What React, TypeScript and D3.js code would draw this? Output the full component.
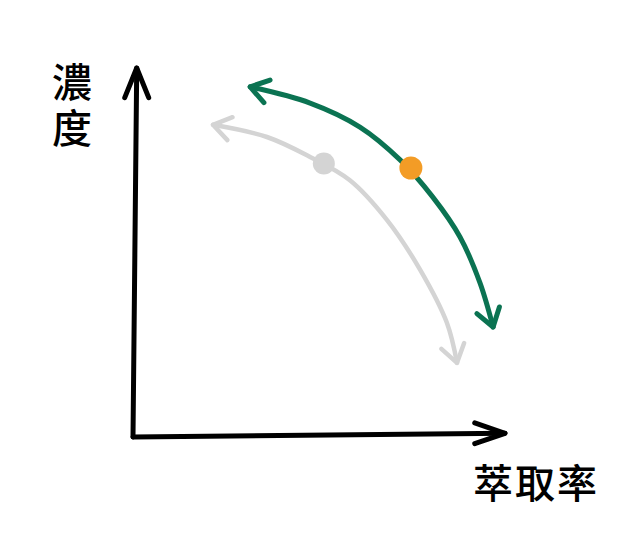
import React, { useEffect, useRef } from 'react';
import * as d3 from 'd3';

// sketch values, both axes on a 0-100 scale
const brewCurve: [number, number][] = [
  [31.5, 94.9], [47.6, 90.5], [61.0, 84.0], [71.8, 75.1],
  [80.6, 65.0], [87.9, 54.2], [93.3, 41.7], [96.8, 29.8]
];
const baseCurve: [number, number][] = [
  [21.5, 84.6], [36.0, 81.3], [47.6, 75.9], [58.3, 69.6],
  [68.3, 58.8], [77.2, 45.3], [84.4, 30.9], [87.1, 20.1]
];
const brewPoint: [number, number] = [74.7, 72.9];
const basePoint: [number, number] = [51.3, 74.1];

const yLabel = '濃度';
const xLabel = '萃取率';

const GREEN = '#0b7352';
const GRAY = '#d4d4d4';
const ORANGE = '#f39c26';

const App: React.FC = () => {
  const svgRef = useRef<SVGSVGElement>(null);

  useEffect(() => {
    if (!svgRef.current) return;
    const svg = d3.select(svgRef.current);
    svg.selectAll('*').remove();

    const width = 622;
    const height = 560;
    const origin = { x: 133, y: 437 };
    const top = 68;
    const right = 505;

    svg.attr('width', width).attr('height', height);

    const x = d3.scaleLinear().domain([0, 100]).range([origin.x, right]);
    const y = d3.scaleLinear().domain([0, 100]).range([origin.y, top]);

    // open chevron arrow head at tip, arms pointing back towards `from`
    const chevron = (tip: [number, number], from: [number, number], len: number, spread: number) => {
      const ang = Math.atan2(from[1] - tip[1], from[0] - tip[0]);
      const a1 = ang + (spread * Math.PI) / 180;
      const a2 = ang - (spread * Math.PI) / 180;
      return `M${tip[0] + len * Math.cos(a1)},${tip[1] + len * Math.sin(a1)}L${tip[0]},${tip[1]}L${tip[0] + len * Math.cos(a2)},${tip[1] + len * Math.sin(a2)}`;
    };

    const g = svg.append('g').attr('fill', 'none').attr('stroke-linecap', 'round').attr('stroke-linejoin', 'round');

    // axes
    g.append('path')
      .attr('d', `M${x(0)},${y(0)}L${x(1)},${y(100)}`)
      .attr('stroke', '#000')
      .attr('stroke-width', 5);
    g.append('path')
      .attr('d', chevron([x(1), y(100)], [x(1), y(0)], 32, 22))
      .attr('stroke', '#000')
      .attr('stroke-width', 5);
    g.append('path')
      .attr('d', `M${x(0)},${y(0)}L${x(100)},${y(1)}`)
      .attr('stroke', '#000')
      .attr('stroke-width', 5);
    g.append('path')
      .attr('d', chevron([x(100), y(1)], [x(0), y(1)], 32, 19))
      .attr('stroke', '#000')
      .attr('stroke-width', 5);

    const line = d3
      .line<[number, number]>()
      .x(d => x(d[0]))
      .y(d => y(d[1]))
      .curve(d3.curveCatmullRom.alpha(0.5));

    const drawCurve = (pts: [number, number][], color: string, w: number) => {
      g.append('path').attr('d', line(pts)).attr('stroke', color).attr('stroke-width', w);
      const px = pts.map(p => [x(p[0]), y(p[1])] as [number, number]);
      const n = px.length;
      const s0: [number, number] = [px[0][0] * 0.6 + px[1][0] * 0.4, px[0][1] * 0.6 + px[1][1] * 0.4];
      const s1: [number, number] = [px[n - 1][0] * 0.6 + px[n - 2][0] * 0.4, px[n - 1][1] * 0.6 + px[n - 2][1] * 0.4];
      g.append('path').attr('d', chevron(px[0], s0, 21, 34)).attr('stroke', color).attr('stroke-width', w);
      g.append('path').attr('d', chevron(px[n - 1], s1, 21, 34)).attr('stroke', color).attr('stroke-width', w);
    };

    drawCurve(baseCurve, GRAY, 4.5);
    drawCurve(brewCurve, GREEN, 5);

    svg.append('circle')
      .attr('cx', x(basePoint[0]))
      .attr('cy', y(basePoint[1]))
      .attr('r', 11)
      .attr('fill', GRAY);
    svg.append('circle')
      .attr('cx', x(brewPoint[0]))
      .attr('cy', y(brewPoint[1]))
      .attr('r', 11.5)
      .attr('fill', ORANGE);

    // labels
    const font = '"Noto Sans CJK TC", "Noto Sans CJK SC", sans-serif';
    svg.append('text')
      .attr('x', 72)
      .attr('y', 62)
      .style('writing-mode', 'vertical-rl')
      .style('text-orientation', 'upright')
      .style('font-family', font)
      .style('font-size', '40px')
      .style('font-weight', 500)
      .style('letter-spacing', '6px')
      .text(yLabel);

    svg.append('text')
      .attr('x', 536)
      .attr('y', 498)
      .attr('text-anchor', 'middle')
      .style('font-family', font)
      .style('font-size', '40px')
      .style('font-weight', 500)
      .style('letter-spacing', '2px')
      .text(xLabel);
  }, []);

  return (
    <div style={{ position: 'absolute', left: 0, top: 0, width: 622, height: 560, background: '#fff' }}>
      <svg ref={svgRef} style={{ display: 'block' }}></svg>
    </div>
  );
};

export default App;
